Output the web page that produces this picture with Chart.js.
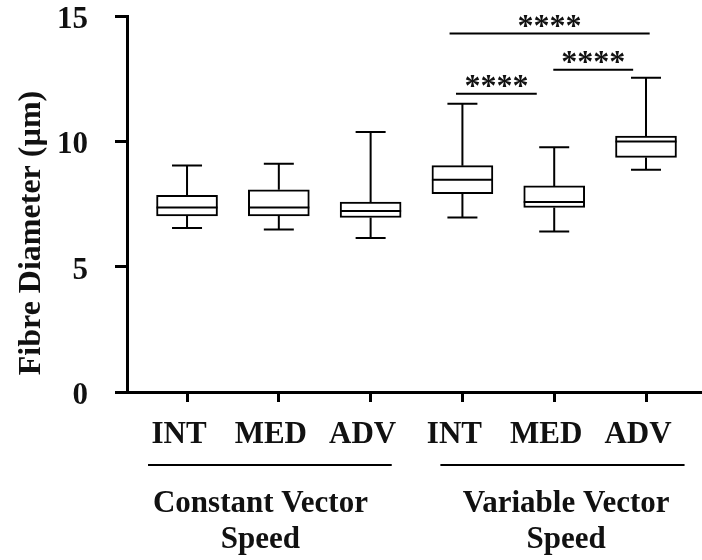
<!DOCTYPE html>
<html>
<head>
<meta charset="utf-8">
<script src="https://cdn.jsdelivr.net/npm/chart.js@4.4.0/dist/chart.umd.min.js"></script>
<style>
  body { margin: 0; background: #fff; }
  #wrap { width: 702px; height: 560px; }
</style>
</head>
<body>
<div id="wrap"><canvas id="fibreChart"></canvas></div>
<script>
// values (fibre diameter, um)
var tickNames = ['INT', 'MED', 'ADV', 'INT', 'MED', 'ADV'];
var whiskerLow  = [6.54, 6.48, 6.14, 6.96, 6.40, 8.87];
var q1          = [7.02, 7.02, 6.96, 7.91, 7.36, 9.36];
var median      = [7.36, 7.36, 7.22, 8.47, 7.58, 9.99];
var q3          = [7.85, 8.07, 7.58, 9.03, 8.22, 10.21];
var whiskerHigh = [9.04, 9.11, 10.37, 11.50, 9.76, 12.54];

// group captions under the axis
var groupTitles = [['Constant Vector', 'Speed'], ['Variable Vector', 'Speed']];
var groupFrom = [0.575, 3.76];
var groupTo = [3.23, 6.42];
var groupTextAt = [1.80, 5.13];

// significance bars
var sigFrom = [3.86, 3.93, 4.99];
var sigTo = [6.04, 4.81, 5.86];
var sigLevel = [14.3, 11.9, 12.86];
var sigText = ['****', '****', '****'];

var ctx = document.getElementById("fibreChart").getContext('2d');
var serif = '"Liberation Serif", "Times New Roman", serif';

var boxData = [];
for (var i = 0; i < tickNames.length; i++) {
  boxData.push({ x: i + 1, y: [q1[i], q3[i]] });
}

var boxExtras = {
  id: 'boxExtras',
  afterDatasetsDraw: function(chart) {
    var c = chart.ctx;
    var xs = chart.scales.x;
    var ys = chart.scales.y;
    var bars = chart.getDatasetMeta(0).data;
    c.save();
    c.strokeStyle = '#000';
    c.lineWidth = 2;
    c.lineCap = 'butt';
    for (var i = 0; i < bars.length; i++) {
      var cx = xs.getPixelForValue(i + 1);
      var half = bars[i].width / 2;
      var cap = 15;
      c.beginPath();
      // median
      c.moveTo(cx - half, ys.getPixelForValue(median[i]));
      c.lineTo(cx + half, ys.getPixelForValue(median[i]));
      // upper whisker
      c.moveTo(cx, ys.getPixelForValue(q3[i]));
      c.lineTo(cx, ys.getPixelForValue(whiskerHigh[i]));
      c.moveTo(cx - cap, ys.getPixelForValue(whiskerHigh[i]));
      c.lineTo(cx + cap, ys.getPixelForValue(whiskerHigh[i]));
      // lower whisker
      c.moveTo(cx, ys.getPixelForValue(q1[i]));
      c.lineTo(cx, ys.getPixelForValue(whiskerLow[i]));
      c.moveTo(cx - cap, ys.getPixelForValue(whiskerLow[i]));
      c.lineTo(cx + cap, ys.getPixelForValue(whiskerLow[i]));
      c.stroke();
    }

    // significance lines + stars
    c.fillStyle = '#111';
    c.textAlign = 'center';
    c.textBaseline = 'alphabetic';
    c.font = 'bold 32px ' + serif;
    for (var j = 0; j < sigFrom.length; j++) {
      var y = ys.getPixelForValue(sigLevel[j]);
      var x1 = xs.getPixelForValue(sigFrom[j]);
      var x2 = xs.getPixelForValue(sigTo[j]);
      c.beginPath();
      c.moveTo(x1, y);
      c.lineTo(x2, y);
      c.stroke();
      c.fillText(sigText[j], (x1 + x2) / 2, y + 2);
    }

    // group underlines and captions
    c.font = 'bold 31px ' + serif;
    var base = chart.chartArea.bottom;
    for (var g = 0; g < groupTitles.length; g++) {
      var a = xs.getPixelForValue(groupFrom[g]);
      var b = xs.getPixelForValue(groupTo[g]);
      c.beginPath();
      c.moveTo(a, base + 73);
      c.lineTo(b, base + 73);
      c.stroke();
      for (var k = 0; k < groupTitles[g].length; k++) {
        c.fillText(groupTitles[g][k], xs.getPixelForValue(groupTextAt[g]), base + 120 + k * 36);
      }
    }

    // y axis title
    c.font = 'bold 32px ' + serif;
    c.translate(40, (ys.top + ys.bottom) / 2 + 29);
    c.rotate(-Math.PI / 2);
    c.fillText('Fibre Diameter (\u00b5m)', 0, 0);
    c.restore();
  }
};

var myChart = new Chart(ctx, {
  type: 'bar',
  data: {
    datasets: [{
      data: boxData,
      backgroundColor: '#fff',
      borderColor: '#000',
      borderWidth: 2,
      borderSkipped: false,
      barThickness: 61
    }]
  },
  options: {
    responsive: true,
    maintainAspectRatio: false,
    animation: false,
    layout: { padding: { top: 16, left: 0, right: 0, bottom: 0 } },
    plugins: {
      legend: { display: false },
      tooltip: { enabled: false }
    },
    scales: {
      x: {
        type: 'linear',
        min: 0.346,
        max: 6.61,
        offset: false,
        afterBuildTicks: function(scale) {
          scale.ticks = tickNames.map(function(n, i) { return { value: i + 1 }; });
        },
        afterFit: function(scale) { scale.height = 168; },
        grid: { offset: false, drawOnChartArea: false, drawTicks: true, tickLength: 10, tickWidth: 3, tickColor: '#000' },
        border: { color: '#000', width: 3 },
        ticks: {
          autoSkip: false,
          maxRotation: 0,
          padding: 14,
          labelOffset: -8,
          color: '#111',
          font: { family: serif, size: 31, weight: 'bold' },
          callback: function(value, index) { return tickNames[index]; }
        }
      },
      y: {
        min: 0,
        max: 15,
        afterFit: function(scale) {
          scale.width = 127;
          // label padding would otherwise push the plot down
          scale.paddingTop = 0;
          scale.paddingBottom = 0;
        },
        grid: { drawOnChartArea: false, drawTicks: true, tickLength: 12, tickWidth: 3, tickColor: '#000' },
        border: { color: '#000', width: 3 },
        ticks: {
          stepSize: 5,
          padding: 27,
          labelOffset: 4,
          color: '#111',
          font: { family: serif, size: 31, weight: 'bold', lineHeight: 1 }
        }
      }
    }
  },
  plugins: [boxExtras]
});
</script>
</body>
</html>
